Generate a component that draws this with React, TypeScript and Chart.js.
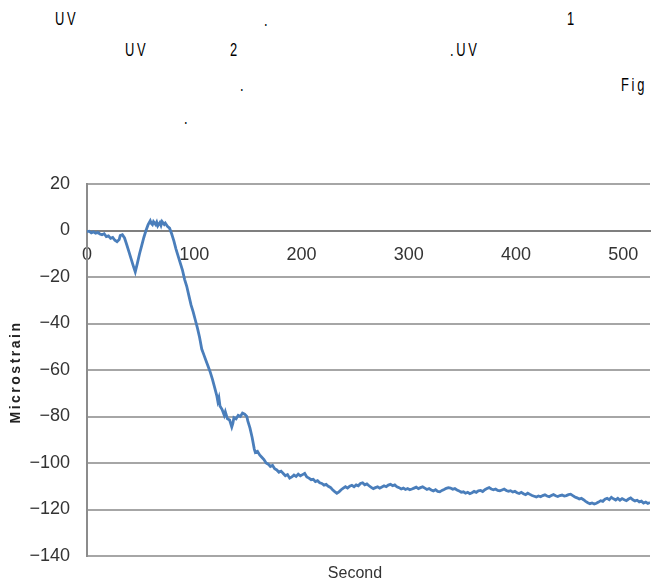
import React, { useEffect, useRef } from "react";
import { Chart, registerables } from "chart.js";

Chart.register(...registerables);

const seconds: number[] = [
  0, 2, 4, 6, 8, 10, 12, 14, 16, 18, 20, 22, 24, 26, 28, 30, 31, 33, 35, 37, 39, 41, 43, 45, 47, 49, 51, 53, 55, 57, 59, 60, 61, 62, 64, 65, 66, 68, 69, 70, 72, 73, 75, 77, 79, 81, 83, 85, 87, 89, 91, 93, 95, 97, 99, 101, 103, 105, 107, 109, 111, 113, 115, 117, 119, 121, 122, 123, 124, 126, 128, 129, 131, 133, 135, 136, 137, 139, 141, 143, 145, 147, 149, 150, 152, 154, 156, 157, 159, 161, 163, 165, 167, 169, 171, 173, 175, 177, 179, 181, 183, 185, 187, 189, 191, 193, 195, 197, 199, 201, 203, 205, 207, 209, 211, 213, 215, 217, 219, 221, 223, 225, 227, 229, 231, 233, 235, 237, 239, 241, 243, 245, 247, 249, 251, 253, 255, 257, 259, 261, 263, 265, 267, 269, 271, 273, 275, 277, 279, 281, 283, 285, 287, 289, 291, 293, 295, 297, 299, 301, 303, 305, 307, 309, 311, 313, 315, 317, 319, 321, 323, 325, 327, 329, 331, 333, 335, 337, 339, 341, 343, 345, 347, 349, 351, 353, 355, 357, 359, 361, 363, 365, 367, 369, 371, 373, 375, 377, 379, 381, 383, 385, 387, 389, 391, 393, 395, 397, 399, 401, 403, 405, 407, 409, 411, 413, 415, 417, 419, 421, 423, 425, 427, 429, 431, 433, 435, 437, 439, 441, 443, 445, 447, 449, 451, 453, 455, 457, 459, 461, 463, 465, 467, 469, 471, 473, 475, 477, 479, 481, 483, 485, 487, 489, 491, 493, 495, 497, 499, 501, 503, 505, 507, 509, 511, 513, 515, 517, 519, 521, 523, 525,
];

const microstrain: number[] = [
  -0.5, -0.3, -1, -0.6, -1.2, -0.8, -1.5, -1.8, -1.4, -2.6, -2.3, -3.4, -3.0, -4.2, -4.8, -3.9, -2.2, -1.8, -3.2, -6, -9, -12, -15, -17.8, -14, -10, -6.5, -3, 0, 2.5, 4.2, 3, 2.5, 3.8, 2.6, 3.6, 2, 3.4, 2.2, 3.8, 2.6, 3.2, 1.8, 1.0, -1.5, -4.5, -8, -11, -14, -17, -21, -24, -28, -32, -35, -38.5, -42, -46, -51, -53.5, -56, -58.5, -61, -64, -67.5, -71, -73.5, -72, -75.5, -77, -79.5, -78, -81, -81.5, -84.5, -83, -80.5, -81, -79.5, -80, -78.5, -79, -80, -82, -85, -89, -94, -95.5, -95, -96.5, -97.5, -98.5, -100, -100.5, -101.5, -101, -102.5, -103, -104, -103.5, -104.5, -105.5, -105, -106.5, -106, -105.2, -105.8, -104.8, -105.5, -105, -104.5, -106, -106.5, -107.2, -107, -108, -107.6, -108.5, -108.8, -109.5, -109.2, -110, -110.5, -111.5, -112.3, -113, -112.4, -111.5, -110.8, -110.2, -110.8, -110, -109.6, -110.2, -109.4, -109.8, -108.8, -108.5, -109.4, -109, -109.8, -110.5, -111, -110.6, -110.2, -110.8, -110.3, -109.8, -110.2, -109.5, -109.2, -109.8, -109.4, -110.2, -110.6, -111.2, -110.8, -111.4, -111, -111.5, -111.2, -110.8, -110.4, -111, -110.6, -110.2, -110.8, -111.4, -111, -111.6, -112, -111.5, -112.2, -112.4, -111.8, -111.4, -110.9, -110.6, -110.8, -111.3, -111, -111.6, -112, -112.6, -112.4, -113, -112.6, -113.2, -112.8, -112.2, -112.6, -112, -111.8, -112.3, -111.5, -111, -110.6, -111.2, -111.5, -111.2, -111.8, -112, -111.6, -111.2, -111.8, -112.2, -111.9, -112.5, -112.2, -112.8, -113.1, -112.6, -113.2, -113.6, -113, -113.5, -114, -114.3, -114.6, -114.2, -114.5, -114, -113.7, -114.2, -114.5, -114, -113.6, -114.1, -114.4, -114, -113.8, -114.2, -114, -113.6, -113.4, -114, -114.6, -115, -115.5, -115.2, -115.8, -116.5, -117.1, -117.5, -117.2, -117.6, -117.3, -116.8, -116.2, -116.5, -115.6, -115.2, -115.8, -114.8, -115.4, -115.9, -115.2, -116, -115.3, -115.8, -116.2, -115.5, -115, -115.8, -116.3, -116, -116.7, -116.4, -117.2, -116.8, -117.4, -117,
];

const xTickValues: number[] = [0, 100, 200, 300, 400, 500];
const yTickValues: number[] = [20, 0, -20, -40, -60, -80, -100, -120, -140];

const xTitle = "Second";
const yTitle = "Microstrain";

const headerTexts: { text: string; left: number; top: number }[] = [
  { text: "UV", left: 55, top: 19 },
  { text: ".", left: 264, top: 20 },
  { text: "1", left: 567, top: 19 },
  { text: "UV", left: 125, top: 50 },
  { text: "2", left: 230, top: 50 },
  { text: ".UV", left: 450, top: 50 },
  { text: ".", left: 240, top: 85 },
  { text: "Fig", left: 621, top: 85 },
  { text: ".", left: 184, top: 118 },
];

const fmt = (v: number) => (v < 0 ? "\u2212" + Math.abs(v) : String(v));

export default function App() {
  const canvasRef = useRef<HTMLCanvasElement | null>(null);

  useEffect(() => {
    const canvas = canvasRef.current;
    if (!canvas) return;
    const points = seconds.map((s, i) => ({ x: s, y: microstrain[i] }));
    const chart = new Chart(canvas, {
      type: "line",
      data: {
        datasets: [
          {
            data: points,
            borderColor: "#4a7ebb",
            borderWidth: 2.8,
            pointRadius: 0,
            tension: 0,
            fill: false,
          },
        ],
      },
      options: {
        responsive: false,
        animation: false,
        layout: { padding: { left: 0, right: 10, top: 184, bottom: 30 } },
        plugins: { legend: { display: false }, tooltip: { enabled: false } },
        scales: {
          x: {
            type: "linear",
            position: { y: 0 } as any,
            min: 0,
            max: 525,
            afterBuildTicks: (scale: any) => {
              scale.ticks = xTickValues.map((v) => ({ value: v }));
            },
            ticks: {
              padding: 14,
              color: "#333",
              font: { family: "Liberation Sans, Arial, sans-serif", size: 18 },
              maxRotation: 0,
              callback: (v: any) => fmt(Number(v)),
            },
            grid: { display: false, drawTicks: false },
            border: { display: true, color: "#7f7f7f", width: 2 },
          },
          y: {
            type: "linear",
            min: -140,
            max: 20,
            afterBuildTicks: (scale: any) => {
              scale.ticks = yTickValues.map((v) => ({ value: v }));
            },
            afterFit: (scale: any) => {
              scale.width = 87;
            },
            ticks: {
              padding: 17,
              color: "#333",
              font: { family: "Liberation Sans, Arial, sans-serif", size: 18 },
              callback: (v: any) => fmt(Number(v)),
            },
            grid: {
              drawTicks: false,
              color: (ctx: any) => (ctx.tick && ctx.tick.value === 0 ? "#7f7f7f" : "#a6a6a6"),
              lineWidth: 2,
            },
            border: { display: true, color: "#8c8c8c", width: 2 },
          },
        },
      },
    });
    return () => chart.destroy();
  }, []);

  return (
    <div
      style={{
        position: "fixed",
        left: 0,
        top: 0,
        width: 660,
        height: 586,
        background: "#fff",
        overflow: "hidden",
      }}
    >
      {headerTexts.map((h, i) => (
        <span
          key={i}
          style={{
            position: "absolute",
            left: h.left,
            top: h.top - 12,
            lineHeight: "24px",
            fontFamily: "Liberation Sans, Arial, sans-serif",
            fontSize: 19,
            letterSpacing: 4,
            color: "#000",
            transform: "scaleX(0.68)",
            transformOrigin: "left center",
            whiteSpace: "pre",
          }}
        >
          {h.text}
        </span>
      ))}
      <canvas
        ref={canvasRef}
        width={660}
        height={586}
        style={{ position: "absolute", left: 0, top: 0, width: 660, height: 586 }}
      />
      <div
        style={{
          position: "absolute",
          left: 15 - 80,
          top: 372 - 10,
          width: 160,
          lineHeight: "20px",
          textAlign: "center",
          transform: "rotate(-90deg)",
          transformOrigin: "center center",
          fontFamily: "Liberation Sans, Arial, sans-serif",
          fontSize: 14,
          fontWeight: "bold",
          letterSpacing: 2.5,
          color: "#222",
          whiteSpace: "pre",
        }}
      >
        {yTitle}
      </div>
      <div
        style={{
          position: "absolute",
          left: 305,
          width: 100,
          top: 563,
          textAlign: "center",
          lineHeight: "20px",
          fontFamily: "Liberation Sans, Arial, sans-serif",
          fontSize: 16,
          color: "#333",
        }}
      >
        {xTitle}
      </div>
    </div>
  );
}
